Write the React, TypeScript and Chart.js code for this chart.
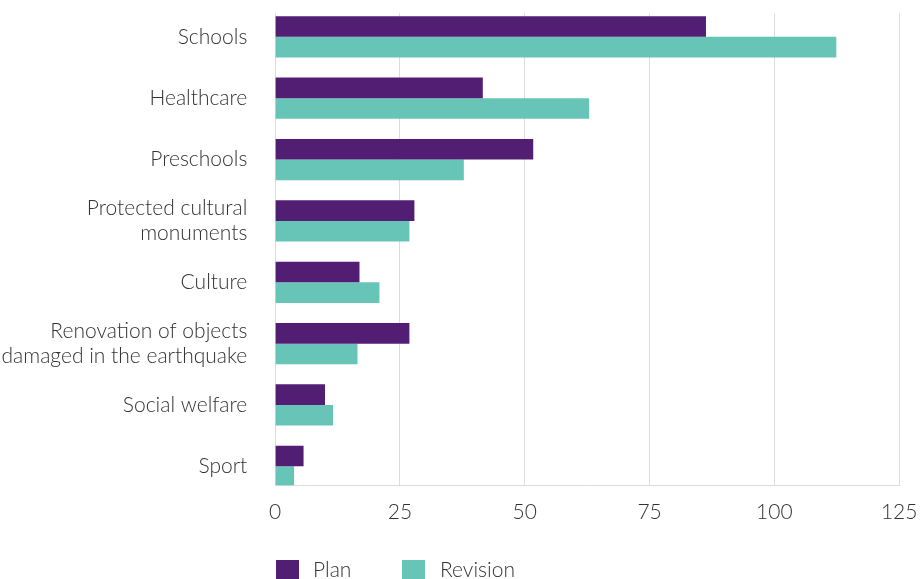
import React, { useEffect, useRef } from "react";
import { Chart, registerables } from "chart.js";

Chart.register(...registerables);

const categories: (string | string[])[] = [
  "Schools",
  "Healthcare",
  "Preschools",
  ["Protected cultural", "monuments"],
  "Culture",
  ["Renovation of objects", "damaged in the earthquake"],
  "Social welfare",
  "Sport",
];
const planValues = [86.3, 41.6, 51.7, 27.9, 16.9, 26.9, 10.0, 5.7];
const revisionValues = [112.4, 62.9, 37.8, 26.9, 20.9, 16.5, 11.6, 3.8];
const xMin = 0;
const xMax = 125;
const xStep = 25;
const seriesNames = ["Plan", "Revision"];

const PLAN_COLOR = "#521E74";
const REV_COLOR = "#66C5B6";
const GRID = "#dcdcdc";
const TEXT = "#333333";
const FONT = "Lato";

export default function App() {
  const ref = useRef<HTMLCanvasElement | null>(null);
  useEffect(() => {
    if (!ref.current) return;
    const toPoints = (vals: number[]) => vals.map((v, i) => ({ x: v, y: i }));
    const chart = new Chart(ref.current, {
      type: "bar",
      data: {
        datasets: [
          {
            label: seriesNames[0],
            data: toPoints(planValues),
            backgroundColor: PLAN_COLOR,
            borderWidth: 0,
          },
          {
            label: seriesNames[1],
            data: toPoints(revisionValues),
            backgroundColor: REV_COLOR,
            borderWidth: 0,
          },
        ],
      },
      options: {
        animation: false,
        responsive: true,
        maintainAspectRatio: false,
        indexAxis: "y",
        layout: { padding: { top: 13.3, right: 22.8, left: 0, bottom: 54.5 } },
        datasets: {
          bar: { categoryPercentage: 0.672, barPercentage: 1 },
        },
        scales: {
          x: {
            type: "linear",
            position: "bottom",
            min: xMin,
            max: xMax,
            afterFit: (s: any) => {
              s.height = 39.2;
              s.paddingLeft = 0;
              s.paddingRight = 0;
            },
            grid: { color: GRID, lineWidth: 1, drawTicks: false },
            border: { display: true, color: GRID, width: 1 },
            ticks: {
              stepSize: xStep,
              padding: 14,
              color: TEXT,
              font: { family: FONT, size: 21, weight: "300", lineHeight: 1.2 },
            },
          },
          y: {
            type: "linear",
            reverse: true,
            offset: false,
            bounds: "data",
            min: -0.384,
            max: 7.309,
            afterBuildTicks: (s: any) => {
              s.ticks = categories.map((_, i) => ({ value: i }));
            },
            afterFit: (s: any) => {
              s.width = 275.1;
              s.paddingTop = 0;
              s.paddingBottom = 0;
            },
            grid: { display: false, drawTicks: false, offset: false },
            border: { display: false },
            ticks: {
              autoSkip: false,
              padding: 27.8,
              color: TEXT,
              font: { family: FONT, size: 21, weight: "300", lineHeight: 1.19 },
              callback: (v: any) => {
                const c = categories[v as number];
                return c === undefined ? "" : (c as any);
              },
            },
          },
        },
        plugins: {
          tooltip: { enabled: false },
          legend: { display: false },
        },
      } as any,
    });
    return () => chart.destroy();
  }, []);

  const legendText: React.CSSProperties = {
    position: "absolute",
    top: 557,
    fontFamily: FONT,
    fontWeight: 300,
    fontSize: 21,
    lineHeight: "23px",
    color: TEXT,
    whiteSpace: "nowrap",
  };
  const legendBox: React.CSSProperties = {
    position: "absolute",
    top: 560,
    width: 23,
    height: 23,
  };

  return (
    <div
      style={{
        position: "fixed",
        left: 0,
        top: 0,
        width: 922,
        height: 579,
        background: "#fff",
        overflow: "hidden",
      }}
    >
      <canvas ref={ref} />
      <div style={{ ...legendBox, left: 276, background: PLAN_COLOR }} />
      <div style={{ ...legendText, left: 313 }}>{seriesNames[0]}</div>
      <div style={{ ...legendBox, left: 402, background: REV_COLOR }} />
      <div style={{ ...legendText, left: 440 }}>{seriesNames[1]}</div>
    </div>
  );
}
